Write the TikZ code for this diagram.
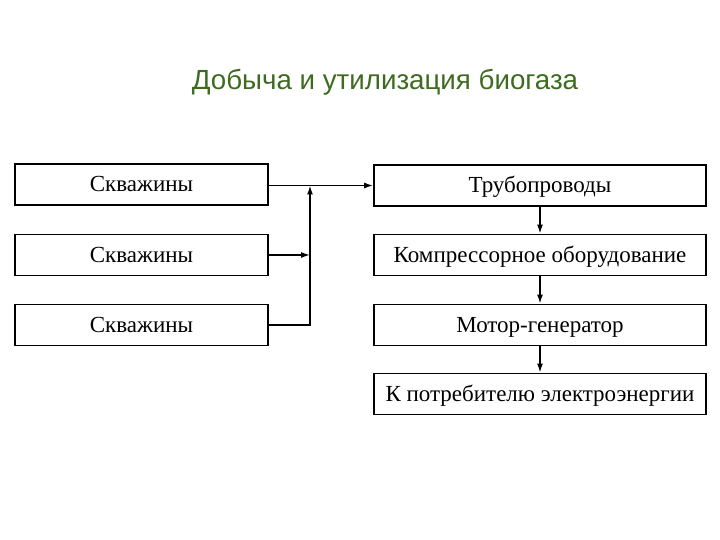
\documentclass[tikz,border=0pt]{standalone}
\usepackage{fontspec}
\setmainfont{Liberation Serif}
\newfontfamily\titlefont{Liberation Sans}
\usetikzlibrary{arrows.meta}
\definecolor{titlegreen}{HTML}{3D6B1F}
\tikzset{
  box/.style={draw, line width=1.8pt, rectangle, inner sep=0pt, text height=15pt, text depth=0pt, font=\fontsize{23}{26}\selectfont},
  lbox/.style={box, minimum width=253pt, minimum height=41pt},
  rbox/.style={box, minimum width=332pt, minimum height=41pt},
  conn/.style={line width=1.5pt},
  arr/.style={conn, -{Latex[length=9pt,width=6pt]}}
}
\begin{document}
\begin{tikzpicture}[x=1pt,y=-1pt]
\useasboundingbox (0,0) rectangle (720,540);
\node[font=\titlefont\fontsize{27.7}{30}\selectfont, text=titlegreen] (title) at (385,82) {Добыча и утилизация биогаза};
\node[lbox] (s1) at (141.5,184.5) {Скважины};
\node[lbox] (s2) at (141.5,255) {Скважины};
\node[lbox] (s3) at (141.5,325) {Скважины};
\node[rbox] (t) at (540,185.5) {Трубопроводы};
\node[rbox] (k) at (540,255) {Компрессорное оборудование};
\node[rbox] (m) at (540,325) {Мотор-генератор};
\node[rbox] (e) at (540,394) {К потребителю электроэнергии};
\coordinate (j1) at (310,185.5);
\coordinate (j2) at (310,255);
\coordinate (j3) at (310,325);
\draw[arr] (s1.east |- t.west) -- (t.west);
\draw[arr] (s2.east) -- (j2);
\draw[arr] (s3.east) -- (j3) -- (j1);
\draw[arr] (t) -- (k);
\draw[arr] (k) -- (m);
\draw[arr] (m) -- (e);
\end{tikzpicture}
\end{document}
